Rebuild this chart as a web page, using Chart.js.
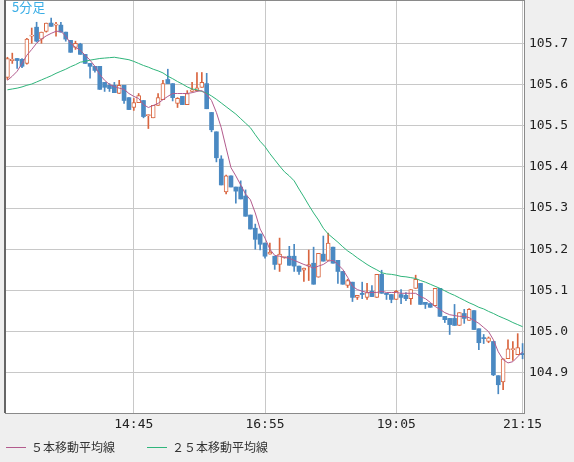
<!DOCTYPE html>
<html><head><meta charset="utf-8">
<script src="https://cdn.jsdelivr.net/npm/chart.js@4"></script>
<style>html,body{margin:0;padding:0;background:#efefef}#w{width:574px;height:462px}</style>
</head><body><div id="w"><canvas id="c"></canvas></div>
<script>
const openP=[105.617,105.658,105.663,105.661,105.651,105.717,105.739,105.71,105.729,105.749,105.744,105.744,105.727,105.707,105.69,105.698,105.673,105.651,105.644,105.644,105.605,105.598,105.598,105.578,105.598,105.568,105.544,
105.556,105.561,105.524,105.519,105.549,105.563,105.612,105.602,105.554,105.571,105.551,105.583,105.585,105.593,105.602,105.532,105.485,105.419,105.339,105.378,105.351,105.351,105.329,105.283,105.251,105.237,105.215,
105.188,105.183,105.163,105.18,105.183,105.183,105.159,105.149,105.159,105.166,105.132,105.188,105.173,105.205,105.173,105.146,105.112,105.12,105.083,105.093,105.083,105.098,105.083,105.139,105.093,105.09,
105.078,105.09,105.088,105.08,105.105,105.117,105.071,105.068,105.063,105.105,105.037,105.032,105.032,105.015,105.044,105.027,105.051,105.007,104.985,104.976,104.976,104.893,104.878,104.934,104.956,104.944,104.947];
const highP=[105.666,105.676,105.663,105.663,105.712,105.737,105.751,105.727,105.749,105.761,105.751,105.751,105.727,105.707,105.705,105.7,105.673,105.651,105.644,105.644,105.605,105.602,105.605,105.61,105.598,105.568,105.566,
105.578,105.561,105.527,105.549,105.578,105.61,105.637,105.602,105.568,105.571,105.585,105.605,105.629,105.629,105.627,105.532,105.485,105.427,105.38,105.378,105.351,105.366,105.344,105.283,105.261,105.237,105.215,
105.215,105.183,105.227,105.181,105.207,105.212,105.159,105.154,105.198,105.205,105.19,105.232,105.239,105.205,105.173,105.146,105.127,105.12,105.088,105.12,105.117,105.112,105.139,105.149,105.093,105.09,
105.1,105.102,105.095,105.102,105.137,105.117,105.071,105.068,105.105,105.105,105.037,105.032,105.066,105.046,105.054,105.056,105.051,105.007,104.993,104.987,104.976,104.893,104.934,104.98,104.976,104.995,104.971];
const lowP=[105.612,105.651,105.639,105.641,105.649,105.7,105.703,105.7,105.727,105.741,105.717,105.727,105.705,105.678,105.685,105.673,105.651,105.615,105.63,105.588,105.583,105.583,105.58,105.578,105.554,105.539,105.537,
105.556,105.519,105.493,105.519,105.549,105.563,105.602,105.56,105.544,105.551,105.551,105.583,105.585,105.593,105.541,105.485,105.412,105.356,105.334,105.351,105.312,105.322,105.28,105.249,105.2,105.198,105.178,
105.188,105.151,105.146,105.178,105.161,105.146,105.139,105.122,105.124,105.115,105.132,105.171,105.173,105.166,105.117,105.115,105.107,105.073,105.078,105.08,105.078,105.085,105.083,105.093,105.078,105.07,
105.078,105.068,105.075,105.066,105.105,105.066,105.056,105.059,105.063,105.037,105.022,104.993,105.015,105.015,105.02,105.027,105.005,104.956,104.971,104.973,104.893,104.849,104.859,104.934,104.93,104.944,104.934];
const closeP=[105.663,105.661,105.658,105.644,105.71,105.72,105.705,105.727,105.749,105.741,105.746,105.727,105.71,105.678,105.7,105.673,105.651,105.644,105.634,105.588,105.593,105.59,105.58,105.598,105.561,105.539,105.556,
105.573,105.522,105.527,105.549,105.568,105.602,105.602,105.568,105.566,105.551,105.578,105.587,105.592,105.605,105.541,105.49,105.422,105.356,105.378,105.351,105.341,105.322,105.28,105.249,105.224,105.212,105.183,
105.193,105.163,105.188,105.181,105.161,105.159,105.146,105.154,105.163,105.115,105.19,105.171,105.215,105.166,105.146,105.115,105.124,105.083,105.088,105.09,105.095,105.085,105.139,105.093,105.09,105.078,
105.098,105.083,105.08,105.102,105.127,105.066,105.066,105.059,105.105,105.037,105.029,105.017,105.015,105.046,105.032,105.054,105.005,104.973,104.983,104.985,104.895,104.871,104.934,104.958,104.959,104.961,104.944];
const ma5=[105.61,105.62,105.632,105.651,105.671,105.685,105.7,105.71,105.718,105.724,105.729,105.729,105.717,105.7,105.69,105.683,105.671,105.659,105.644,105.624,105.61,105.6,105.595,105.591,105.588,105.578,105.571,
105.566,105.551,105.544,105.549,105.554,105.563,105.571,105.578,105.578,105.578,105.578,105.58,105.583,105.585,105.576,105.561,105.532,105.495,105.446,105.398,105.378,105.356,105.334,105.32,105.288,105.249,105.227,
105.2,105.185,105.183,105.18,105.178,105.173,105.168,105.163,105.159,105.154,105.159,105.163,105.171,105.173,105.163,105.151,105.132,105.11,105.102,105.098,105.095,105.095,105.095,105.098,105.095,105.095,
105.095,105.093,105.093,105.093,105.093,105.085,105.08,105.071,105.061,105.054,105.046,105.041,105.039,105.037,105.037,105.034,105.027,105.02,105.01,105,104.98,104.951,104.932,104.924,104.927,104.939,104.951];
const ma25=[105.587,105.589,105.591,105.594,105.598,105.601,105.606,105.611,105.616,105.621,105.627,105.632,105.637,105.643,105.648,105.654,105.656,105.659,105.661,105.663,105.664,105.665,105.666,105.664,105.662,105.66,105.656,
105.651,105.646,105.642,105.637,105.633,105.628,105.62,105.614,105.607,105.601,105.594,105.589,105.587,105.583,105.579,105.572,105.564,105.555,105.546,105.537,105.528,105.517,105.506,105.495,105.478,105.462,105.449,
105.432,105.417,105.402,105.388,105.378,105.366,105.346,105.327,105.307,105.288,105.271,105.251,105.237,105.227,105.217,105.206,105.196,105.188,105.179,105.171,105.163,105.156,105.15,105.143,105.14,105.139,
105.137,105.134,105.133,105.131,105.129,105.124,105.12,105.115,105.11,105.105,105.099,105.093,105.088,105.082,105.076,105.07,105.065,105.059,105.055,105.049,105.044,105.038,105.033,105.028,105.022,105.017,105.012];
const tickIdx=[26,53,80,106];
const tickText=['14:45','16:55','19:05','21:15'];
const yTicks=[104.9,105.0,105.1,105.2,105.3,105.4,105.5,105.6,105.7];
const seriesNames=['５本移動平均線','２５本移動平均線'];
const periodLabel='5分足';

const UP='#d9653f',DN='#4a89c2',C5='#b35b8d',C25='#2fb57b';
const labels=openP.map((_,i)=>String(i));
const isUp=openP.map((o,i)=>closeP[i]>=o);
const bgPlugin={id:'bg',beforeDraw(ch){const a=ch.chartArea,x=ch.ctx;x.save();x.fillStyle='#efefef';x.fillRect(0,0,ch.width,ch.height);x.fillStyle='#fff';x.fillRect(a.left,a.top,a.right-a.left,a.bottom-a.top);x.restore();},
afterDraw(ch){const a=ch.chartArea,x=ch.ctx;x.save();x.strokeStyle='#8a8a8a';x.lineWidth=1;x.strokeRect(a.left+0.5,a.top+0.5,a.right-a.left-1,a.bottom-a.top);
x.strokeStyle='#666';x.lineWidth=2;x.beginPath();x.moveTo(a.left,0);x.lineTo(a.left,a.bottom);x.stroke();
const ys=ch.scales.y;x.fillStyle='#222';x.font='13px "DejaVu Sans Mono"';x.textBaseline='middle';x.textAlign='left';
yTicks.forEach(v=>x.fillText(v.toFixed(1),a.right+4,ys.getPixelForValue(v)));
x.fillStyle='#3aaee6';x.font='13px "Noto Sans CJK JP"';x.textBaseline='top';x.fillText(periodLabel,12,1);
x.font='12px "Noto Sans CJK JP"';x.textBaseline='middle';
const ly=447;[[C5,6,seriesNames[0]],[C25,147,seriesNames[1]]].forEach(([c,lx,t])=>{x.strokeStyle=c;x.lineWidth=1;x.beginPath();x.moveTo(lx,ly+0.5);x.lineTo(lx+20,ly+0.5);x.stroke();x.fillStyle='#333';x.fillText(t,lx+25,ly);});
x.restore();}};
new Chart(document.getElementById('c'),{
 data:{labels,datasets:[
  {type:'line',label:seriesNames[0],data:ma5,borderColor:C5,borderWidth:1,pointRadius:0,order:0,tension:0},
  {type:'line',label:seriesNames[1],data:ma25,borderColor:C25,borderWidth:1,pointRadius:0,order:0,tension:0},
  {type:'bar',data:openP.map((o,i)=>[o,closeP[i]]),grouped:false,barThickness:4,minBarLength:1,
   backgroundColor:isUp.map(u=>u?'#fff':DN),borderColor:isUp.map(u=>u?UP:DN),borderWidth:isUp.map(u=>u?1:0),borderSkipped:false,order:1},
  {type:'bar',data:lowP.map((l,i)=>[l,highP[i]]),grouped:false,barThickness:1,backgroundColor:isUp.map(u=>u?UP:DN),borderWidth:0,order:2}
 ]},
 options:{responsive:true,maintainAspectRatio:false,animation:false,
  layout:{padding:{left:5,right:0,top:0,bottom:28}},
  plugins:{legend:{display:false},tooltip:{enabled:false}},
  scales:{
   x:{type:'category',offset:true,grid:{offset:false,color:c=>tickIdx.includes(c.index)?'#c8c8c8':'rgba(0,0,0,0)',drawTicks:false},border:{display:false},
      ticks:{autoSkip:false,maxRotation:0,padding:4,color:'#222',font:{family:'DejaVu Sans Mono',size:13},callback:(v,i)=>{const k=tickIdx.indexOf(i);return k>=0?tickText[k]:'';}},
      afterFit:s=>{s.height=21;}},
   y:{position:'right',min:104.8024,max:105.805,grid:{color:'#c8c8c8',drawTicks:false},border:{display:false},
      afterBuildTicks:s=>{s.ticks=yTicks.map(v=>({value:v}));},
      ticks:{display:false},
      afterFit:s=>{s.width=49;}}
  }},
 plugins:[bgPlugin]});
</script></body></html>
